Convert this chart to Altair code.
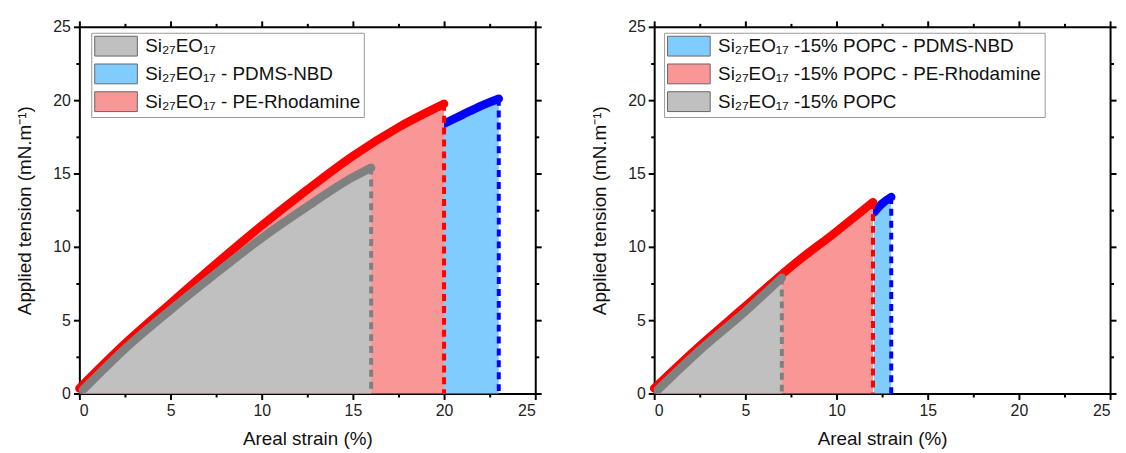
import altair as alt
import pandas as pd

# ---------------- data ----------------
# Left panel
L_grey_x = [0.2, 2.5, 5.0, 7.5, 10.0, 12.5, 15.0, 16.0]
L_grey_y = [0.25, 3.05, 5.7, 8.2, 10.6, 12.75, 14.75, 15.4]
L_red_x = [0.0, 2.5, 5.0, 7.5, 10.0, 12.5, 15.0, 17.5, 20.0]
L_red_y = [0.35, 3.4, 6.15, 8.85, 11.45, 13.9, 16.2, 18.15, 19.75]
L_blue_x = [20.0, 21.0, 22.0, 23.0]
L_blue_y = [18.4, 19.0, 19.6, 20.1]

# Right panel
R_grey_x = [0.2, 2.5, 5.0, 7.0]
R_grey_y = [0.25, 2.95, 5.6, 7.9]
R_red_x = [0.0, 2.5, 5.0, 7.5, 10.0, 12.0]
R_red_y = [0.35, 3.25, 5.95, 8.65, 11.05, 13.05]
R_blue_x = [12.05, 12.5, 13.0]
R_blue_y = [12.35, 12.95, 13.4]

L_names = ["Si₂₇EO₁₇", "Si₂₇EO₁₇ - PDMS-NBD", "Si₂₇EO₁₇ - PE-Rhodamine"]
R_names = ["Si₂₇EO₁₇ -15% POPC - PDMS-NBD", "Si₂₇EO₁₇ -15% POPC - PE-Rhodamine", "Si₂₇EO₁₇ -15% POPC"]

tick_values = [0, 2.5, 5, 7.5, 10, 12.5, 15, 17.5, 20, 22.5, 25]

FILL_GREY, FILL_BLUE, FILL_RED = "#c0c0c0", "#80ccff", "#f99696"
LINE_GREY, LINE_BLUE, LINE_RED = "#808080", "#0000ff", "#ff0000"

FONT = "Liberation Sans"
W, H = 460, 370

scale = alt.Scale(domain=[0, 25], nice=False, zero=False)
tick_size = {"condition": {"test": "datum.value % 5 === 0", "value": 6}, "value": 3.5}


def axis(orient, title=None, labels=True, title_pad=10):
    kw = dict(
        orient=orient, values=tick_values, tickSize=tick_size, tickWidth=2,
        tickColor="#000", domainColor="#000", domainWidth=2, grid=False,
        labels=labels, format="d", labelFont=FONT, labelFontSize=16,
        labelColor="#222", labelPadding=3,
        labelExpr="datum.value % 5 === 0 ? datum.label : ''",
    )
    if title is not None:
        kw.update(title=title, titleFont=FONT, titleFontSize=19,
                  titleFontWeight="normal", titleColor="#111", titlePadding=title_pad)
    else:
        kw.update(title="")
    return alt.Axis(**kw)


def panel(series, names, fills, legend_x, legend_y):
    # series: list of (x, y, name, line colour) in drawing order (back to front)
    legend = alt.Legend(
        orient="none", legendX=legend_x, legendY=legend_y, title=None,
        symbolType="M-2.15,-1H2.15V1H-2.15Z", symbolSize=400, symbolOffset=11.5,
        symbolStrokeColor="#666", symbolStrokeWidth=1, symbolOpacity=1,
        labelFont=FONT, labelFontSize=19, labelColor="#111", labelOffset=19,
        labelLimit=700, rowPadding=3, padding=3,
        strokeColor="#999", fillColor="white",
    )
    fill_scale = alt.Scale(domain=names, range=fills)
    layers = []
    for xs, ys, name, lc in series:
        df = pd.DataFrame({"x": xs, "y": ys, "series": name})
        base = alt.Chart(df)
        area = base.mark_area(opacity=1, interpolate="monotone").encode(
            x=alt.X("x:Q", scale=scale, axis=None),
            y=alt.Y("y:Q", scale=scale, axis=None, stack=None),
            fill=alt.Fill("series:N", scale=fill_scale, legend=legend),
        )
        line = base.mark_line(strokeWidth=8.5, strokeCap="round", strokeJoin="round",
                              interpolate="monotone", color=lc).encode(
            x=alt.X("x:Q", scale=scale, axis=None),
            y=alt.Y("y:Q", scale=scale, axis=None),
        )
        end = pd.DataFrame({"x": [xs[-1]], "y": [ys[-1]]})
        rule = alt.Chart(end).mark_rule(strokeWidth=4, strokeDash=[7, 5], color=lc).encode(
            x=alt.X("x:Q", scale=scale, axis=None),
            y=alt.Y("y:Q", scale=scale, axis=None),
            y2=alt.datum(0),
        )
        layers += [area, line, rule]
    ax_df = pd.DataFrame({"x": [0, 25], "y": [0, 25]})
    ax1 = alt.Chart(ax_df).mark_point(opacity=0).encode(
        x=alt.X("x:Q", scale=scale, axis=axis("bottom", "Areal strain (%)", title_pad=11)),
        y=alt.Y("y:Q", scale=scale, axis=axis("left", "Applied tension (mN.m⁻¹)", title_pad=18)),
    )
    ax2 = alt.Chart(ax_df).mark_point(opacity=0).encode(
        x=alt.X("x:Q", scale=scale, axis=axis("top", labels=False)),
        y=alt.Y("y:Q", scale=scale, axis=axis("right", labels=False)),
    )
    layers += [ax1, ax2]
    return alt.layer(*layers).resolve_axis(x="independent", y="independent").properties(
        width=W, height=H)


left = panel(
    [(L_blue_x, L_blue_y, L_names[1], LINE_BLUE),
     (L_red_x, L_red_y, L_names[2], LINE_RED),
     (L_grey_x, L_grey_y, L_names[0], LINE_GREY)],
    L_names, [FILL_GREY, FILL_BLUE, FILL_RED], 12, 6)

right = panel(
    [(R_blue_x, R_blue_y, R_names[0], LINE_BLUE),
     (R_red_x, R_red_y, R_names[1], LINE_RED),
     (R_grey_x, R_grey_y, R_names[2], LINE_GREY)],
    R_names, [FILL_BLUE, FILL_RED, FILL_GREY], 10, 6)

chart = alt.hconcat(left, right, spacing=47).resolve_scale(
    x="independent", y="independent", fill="independent"
).properties(
    padding={"top": 8, "left": 7, "right": 0, "bottom": 0}
).configure_view(stroke="transparent")

chart.save("out.html", embed_options={"renderer": "svg", "actions": False})
